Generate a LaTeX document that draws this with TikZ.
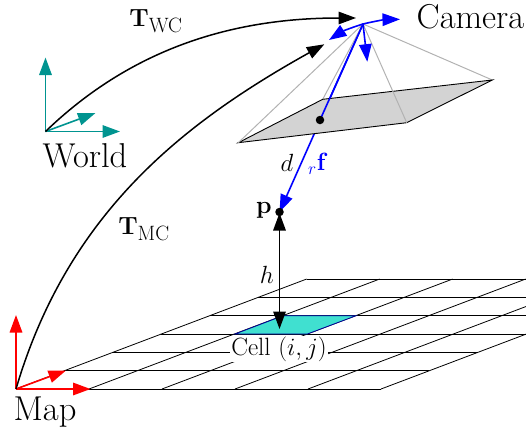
\documentclass[tikz,border=0pt]{standalone}
\usepackage{amsmath}
\usepackage{amssymb}
\definecolor{worldclr}{HTML}{009490}
\definecolor{cellclr}{HTML}{40E0D0}
\definecolor{planeclr}{HTML}{D3D3D3}
\usetikzlibrary{arrows.meta,calc}
\tikzset{
  tip/.tip       = {Triangle[length=17.5pt,width=12.5pt]},
  axis/.style    = {-tip,line width=1.6pt},
  xform/.style   = {-tip,line width=1.5pt,black},
  gridln/.style  = {black,line width=0.8pt},
  ray/.style     = {gray!60,line width=1pt},
  lbl/.style     = {font=\fontsize{34.5}{38}\selectfont,inner sep=0pt},
  mlbl/.style    = {font=\fontsize{30}{34}\selectfont,inner sep=0pt},
  slbl/.style    = {font=\fontsize{25}{28}\selectfont,inner sep=0pt},
  dotpt/.style   = {circle,fill=black,minimum size=8.5pt,inner sep=0pt},
}
\newcommand{\mapframe}[5]{%
  \coordinate (#1-o) at (#3,#4);
  \coordinate (#1-x) at ($(#3,#4)+(74.5,0)$);
  \coordinate (#1-y) at ($(#3,#4)+(0,-74)$);
  \coordinate (#1-z) at ($(#3,#4)+(50,-18.5)$);
  \draw[axis,#2] (#1-o) -- (#1-x);
  \draw[axis,#2] (#1-o) -- (#1-y);
  \draw[axis,#2] (#1-o) -- (#1-z);%
}
\begin{document}
\begin{tikzpicture}[x=1pt,y=-1pt]
  \useasboundingbox (0,0) rectangle (526,434);
  \coordinate (org) at (16,389);
  \begin{scope}
    \clip (0,0) rectangle (526,434);
    \foreach \r in {0,...,6}
      \draw[gridln] ($(org)+(\r*48.45,-\r*18.33)$) -- ++(365,0);
    \foreach \c in {0,...,5}
      \draw[gridln] ($(org)+(\c*73,0)$) -- ++(290.7,-110);
  \end{scope}
  \draw[fill=cellclr,draw=blue!60!black,line width=0.8pt]
    (235,334) -- (307.3,334) -- (356,315.7) -- (283,315.7) -- cycle;
  \node[slbl,fill=white,inner xsep=1pt,inner ysep=1pt] (cell) at (279,349) {Cell $(i,j)$};

  \coordinate (cam) at (363,24);
  \coordinate (c0) at (238.3,142.7);
  \coordinate (c1) at (322.7,99.3);
  \coordinate (c2) at (492.3,80);
  \coordinate (c3) at (406.7,122.7);
  \coordinate (pc) at (320,120);
  \coordinate (pt) at (279.5,212);
  \coordinate (pa) at (279.5,213);
  \coordinate (ca) at (279.5,329);

  \draw[axis,blue] (cam) -- (pt);
  \draw[ray] (cam) -- (c1);
  \draw[ray] (cam) -- (c2);
  \draw[fill=planeclr,draw=black,line width=0.9pt] (c0) -- (c1) -- (c2) -- (c3) -- cycle;
  \draw[ray] (cam) -- (c0);
  \draw[ray] (cam) -- (c3);
  \draw[line width=1.6pt,blue] (cam) -- (pc);
  \node[dotpt] (fpt) at (pc) {};
  \node[dotpt] (ppt) at (pt) {};
  \draw[line width=1.5pt,black,tip-tip] (pa) -- (ca);

  \coordinate (cx) at (400,19.3);
  \coordinate (cy) at (367.3,61.7);
  \coordinate (cz) at (329,40);
  \draw[axis,blue] (cam) to[bend left=6] (cx);
  \draw[axis,blue] (cam) -- (cy);
  \draw[axis,blue] (cam) to[bend right=8] (cz);

  \mapframe{wf}{worldclr}{45.5}{131.5}{}
  \mapframe{mf}{red}{16}{389}{}

  \coordinate (wcend) at (356,18);
  \coordinate (mcend) at (324.3,44.3);
  \draw[xform] (wf-o) .. controls (130,50) and (230,18) .. (wcend);
  \draw[xform] (mf-o) .. controls (68,212) and (185,122) .. (mcend);

  \node[lbl] (camlbl) at (470.5,17) {Camera};
  \node[lbl] (wlbl) at (85,156) {World};
  \node[lbl] (mlbl) at (45,412) {Map};
  \node[mlbl] (twc) at (156,21) {$\mathbf{T}_{\mathrm{WC}}$};
  \node[mlbl] (tmc) at (144,229) {$\mathbf{T}_{\mathrm{MC}}$};
  \node[slbl] (dlbl) at (287,163) {$d$};
  \node[slbl,text=blue] (flbl) at (318,164) {${}_{r}\mathbf{f}$};
  \node[slbl] (plbl) at (264,210) {$\mathbf{p}$};
  \node[slbl] (hlbl) at (267,275) {$h$};
\end{tikzpicture}
\end{document}
